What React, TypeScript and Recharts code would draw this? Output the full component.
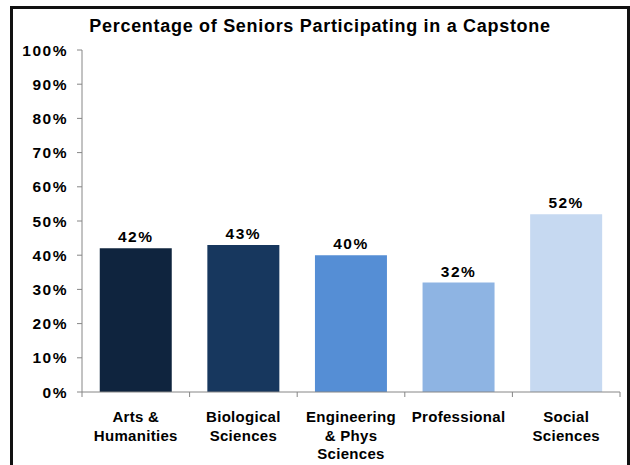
import React from "react";
import { BarChart, Bar, XAxis, YAxis, Cell, LabelList } from "recharts";

const categories = [
  "Arts &\nHumanities",
  "Biological\nSciences",
  "Engineering\n& Phys\nSciences",
  "Professional",
  "Social\nSciences",
];
const values = [42, 43, 40, 32, 52];
const colors = ["#0F243E", "#17375E", "#558ED5", "#8EB4E3", "#C6D9F1"];
const yTicks = [0, 10, 20, 30, 40, 50, 60, 70, 80, 90, 100];

const FONT = "'Liberation Sans', Arial, sans-serif";
const AXIS = "#868686";

const data = categories.map((name, i) => ({ name, value: values[i] }));

const CategoryTick = (props: any) => {
  const { x, y, payload, index } = props;
  const half = payload?.offset ?? 54;
  const lines = String(payload.value).split("\n");
  const top = y - 8;
  return (
    <g>
      <line x1={x - half} y1={top} x2={x - half} y2={top + 5} stroke={AXIS} />
      {index === categories.length - 1 && (
        <line x1={x + half} y1={top} x2={x + half} y2={top + 5} stroke={AXIS} />
      )}
      <text
        x={x}
        y={top + 30}
        textAnchor="middle"
        fontFamily={FONT}
        fontWeight="bold"
        fontSize={15}
        letterSpacing={0.3}
        fill="#000"
      >
        {lines.map((l, i) => (
          <tspan key={i} x={x} dy={i === 0 ? 0 : 18.5}>
            {l}
          </tspan>
        ))}
      </text>
    </g>
  );
};

export default function App() {
  return (
    <div
      style={{
        position: "absolute",
        left: 10,
        top: 6,
        width: 620,
        height: 475,
        boxSizing: "border-box",
        border: "3px solid #111",
        background: "#fff",
      }}
    >
      <div
        style={{
          position: "absolute",
          left: 0,
          width: 614,
          top: 7,
          textAlign: "center",
          fontFamily: FONT,
          fontWeight: "bold",
          fontSize: 18,
          letterSpacing: 0.7,
          color: "#000",
        }}
      >
        Percentage of Seniors Participating in a Capstone
      </div>
      <BarChart
        width={614}
        height={470}
        data={data}
        margin={{ top: 41, right: 7, bottom: 27, left: 9 }}
        barCategoryGap="16.5%"
      >
        <XAxis
          dataKey="name"
          interval={0}
          height={60}
          axisLine={{ stroke: AXIS }}
          tickLine={false}
          tick={<CategoryTick />}
        />
        <YAxis
          domain={[0, 100]}
          ticks={yTicks}
          width={60}
          interval={0}
          tickFormatter={(v: number) => `${v}%`}
          axisLine={{ stroke: AXIS }}
          tickLine={{ stroke: AXIS }}
          tickSize={5}
          tickMargin={9}
          tick={{
            fill: "#000",
            fontFamily: FONT,
            fontWeight: "bold",
            fontSize: 15.5,
            letterSpacing: 1.5,
          }}
        />
        <Bar dataKey="value" isAnimationActive={false}>
          {data.map((d, i) => (
            <Cell key={d.name} fill={colors[i]} />
          ))}
          <LabelList
            dataKey="value"
            position="top"
            offset={6}
            formatter={(v: any) => `${v}%`}
            style={{
              fill: "#000",
              fontFamily: FONT,
              fontWeight: "bold",
              fontSize: 15.5,
              letterSpacing: 1.5,
            }}
          />
        </Bar>
      </BarChart>
    </div>
  );
}
